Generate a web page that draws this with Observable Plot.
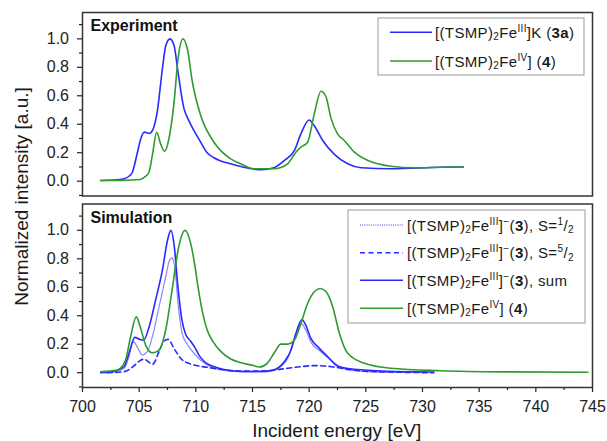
<!DOCTYPE html>
<html><head><meta charset="utf-8">
<script src="https://cdn.jsdelivr.net/npm/d3@7"></script>
<script src="https://cdn.jsdelivr.net/npm/@observablehq/plot@0.6"></script>
<style>body{margin:0;background:#fff}#chart{width:607px;height:441px}</style>
</head><body><div id="chart"></div>
<script>
// ---------- data ----------
const panels = ["Experiment", "Simulation"];

// Experiment: [(TSMP)2FeIII]K (3a)
const expE_3a = [701.6,703.0,703.65,704.1,704.4,704.84,705.15,705.45,705.9,706.2,706.6,707.05,707.35,707.72,708.08,708.43,708.96,709.3,709.8,710.43,711.0,711.6,712.2,713.08,713.97,715.74,716.9,717.8,718.7,719.27,720.0,720.45,721.2,722.2,723.4,724.58,727.2,731.65,733.6];
const expI_3a = [0.005,0.01,0.017,0.035,0.063,0.20,0.30,0.345,0.335,0.36,0.49,0.79,0.953,1.0,0.953,0.765,0.508,0.44,0.36,0.274,0.2,0.165,0.142,0.122,0.103,0.08,0.094,0.145,0.216,0.333,0.43,0.39,0.286,0.19,0.122,0.094,0.087,0.098,0.10];
// Experiment: [(TSMP)2FeIV] (4)
const expE_4 = [701.6,703.5,705.1,705.5,705.87,706.2,706.54,706.9,707.25,707.63,708.08,708.43,708.87,709.25,709.7,710.43,711.6,713.08,713.97,715.15,716.9,718.1,718.83,719.27,719.86,720.45,721.04,721.5,721.9,722.5,723.1,724.0,725.2,727.2,729.3,731.65,733.6];
const expI_4 = [0.005,0.006,0.012,0.03,0.063,0.2,0.344,0.26,0.21,0.30,0.555,0.86,1.0,0.93,0.695,0.461,0.274,0.157,0.122,0.087,0.087,0.122,0.204,0.239,0.274,0.473,0.632,0.59,0.45,0.333,0.286,0.204,0.145,0.105,0.094,0.098,0.10];

// Simulation: [(TSMP)2FeIII]- (3), S=1/2
const simE_s12 = [702.2,703.65,704.1,704.47,704.98,705.27,705.7,706.16,706.75,707.34,707.63,707.87,708.14,708.43,708.8,709.25,709.8,710.4,711.0,712.0,714.0,716.0,717.0,717.6,718.1,718.7,719.27,719.7,720.15,721.04,721.9,722.8,724.0,726.0,730.0];
const simI_s12 = [0.0,0.03,0.113,0.217,0.159,0.124,0.147,0.252,0.462,0.673,0.778,0.806,0.743,0.486,0.276,0.2,0.14,0.09,0.055,0.025,0.007,0.005,0.02,0.05,0.1,0.241,0.346,0.3,0.217,0.147,0.089,0.038,0.015,0.005,0.002];
// Simulation: S=5/2
const simE_s52 = [702.2,703.65,704.5,705.0,705.4,706.2,706.75,707.2,707.55,708.08,708.67,709.55,711.0,712.5,714.0,716.0,717.5,719.0,720.5,722.0,723.5,725.5,728.0,731.0];
const simI_s52 = [0.0,0.007,0.045,0.08,0.095,0.06,0.147,0.224,0.234,0.17,0.1,0.061,0.038,0.02,0.012,0.012,0.025,0.04,0.05,0.042,0.022,0.008,0.003,0.0];
// Simulation: sum
const simE_sum = [701.6,702.5,703.65,704.1,704.62,705.07,705.4,705.87,706.45,707.05,707.5,707.8,708.08,708.4,708.75,709.1,709.5,709.9,710.3,710.8,711.5,712.5,714.0,716.0,716.9,717.8,718.4,718.83,719.36,719.7,720.15,720.9,721.64,722.5,724.0,727.0,731.0];
const simI_sum = [0.0,0.005,0.042,0.136,0.248,0.234,0.229,0.32,0.51,0.72,0.93,1.0,0.9,0.62,0.38,0.27,0.225,0.18,0.12,0.075,0.045,0.022,0.008,0.01,0.02,0.077,0.159,0.276,0.374,0.334,0.241,0.171,0.112,0.047,0.024,0.01,0.005];
// Simulation: [(TSMP)2FeIV] (4)
const simE_4 = [701.6,703.07,703.8,704.24,704.75,705.1,705.57,706.16,706.75,707.34,707.94,708.43,709.05,709.55,709.9,710.2,710.6,711.0,711.5,712.2,713.0,714.0,715.0,715.6,716.3,716.9,717.5,718.1,718.7,719.27,719.86,720.45,720.98,721.5,722.08,722.67,723.4,724.87,727.2,731.65,737.0,744.6];
const simI_4 = [0.007,0.019,0.089,0.252,0.392,0.32,0.194,0.14,0.159,0.30,0.60,0.86,1.0,0.907,0.76,0.6,0.42,0.3,0.22,0.15,0.1,0.07,0.052,0.04,0.066,0.136,0.201,0.201,0.229,0.346,0.486,0.568,0.591,0.568,0.462,0.276,0.136,0.066,0.031,0.014,0.006,0.003];

const yMajorTicks = [0, 0.2, 0.4, 0.6, 0.8, 1.0];
const yMinorTicks = [-0.1, 0.1, 0.3, 0.5, 0.7, 0.9, 1.1];
const xMajorTicks = [700, 705, 710, 715, 720, 725, 730, 735, 740, 745];
const xMinorTicks = [702.5, 707.5, 712.5, 717.5, 722.5, 727.5, 732.5, 737.5, 742.5];

// legend labels: [text, style] segments
const legendTop = [
  [["[(TSMP)"],["2","sub"],["Fe"],["III","sup"],["]K ("],["3a","b"],[")"]],
  [["[(TSMP)"],["2","sub"],["Fe"],["IV","sup"],["] ("],["4","b"],[")"]]
];
const legendBottom = [
  [["[(TSMP)"],["2","sub"],["Fe"],["III","sup"],["]"],["\u2212","sup"],["("],["3","b"],["), S="],["1","sup"],["/"],["2","sub"]],
  [["[(TSMP)"],["2","sub"],["Fe"],["III","sup"],["]"],["\u2212","sup"],["("],["3","b"],["), S="],["5","sup"],["/"],["2","sub"]],
  [["[(TSMP)"],["2","sub"],["Fe"],["III","sup"],["]"],["\u2212","sup"],["("],["3","b"],["), sum"]],
  [["[(TSMP)"],["2","sub"],["Fe"],["IV","sup"],["] ("],["4","b"],[")"]]
];

// ---------- drawing ----------
const BLUE = "#2a2aff", GREEN = "#2f9a2f", LBLUE = "#8080ff";
const rows = (E, I, panel) => E.map((e, i) => ({E: e, I: I[i], panel}));
const lineOpts = (extra) => Object.assign({x: "E", y: "I", fy: "panel", curve: "monotone-x", strokeWidth: 1.6}, extra);

const plot = Plot.plot({
  width: 607, height: 441,
  marginLeft: 82, marginRight: 15, marginTop: 12, marginBottom: 54,
  style: {fontFamily: "'Liberation Sans', Arial, sans-serif", fontSize: "16px", color: "#222", background: "#fff"},
  x: {domain: [700, 745]},
  y: {domain: [-0.104, 1.185]},
  fy: {domain: panels, paddingInner: 0.0417, paddingOuter: 0, round: false, axis: null, label: null},
  marks: [
    Plot.axisY({ticks: yMajorTicks, tickFormat: d3.format(".1f"), tickSize: 5, tickPadding: 8.5, label: null, strokeWidth: 1.2}),
    Plot.axisY({ticks: yMinorTicks, tickSize: 3, text: null, label: null, strokeWidth: 1.2}),
    Plot.axisX({ticks: xMajorTicks, tickSize: 5, tickPadding: 7.8, label: null, strokeWidth: 1.2}),
    Plot.axisX({ticks: xMinorTicks, tickSize: 3, text: null, label: null, strokeWidth: 1.2}),
    Plot.line(rows(expE_3a, expI_3a, "Experiment"), lineOpts({stroke: BLUE})),
    Plot.line(rows(expE_4, expI_4, "Experiment"), lineOpts({stroke: GREEN})),
    Plot.line(rows(simE_s12, simI_s12, "Simulation"), lineOpts({stroke: LBLUE, strokeWidth: 1.3, strokeDasharray: "1,1.2"})),
    Plot.line(rows(simE_s52, simI_s52, "Simulation"), lineOpts({stroke: BLUE, strokeDasharray: "5,3.5"})),
    Plot.line(rows(simE_sum, simI_sum, "Simulation"), lineOpts({stroke: BLUE})),
    Plot.line(rows(simE_4, simI_4, "Simulation"), lineOpts({stroke: GREEN})),
    Plot.frame({stroke: "#333", strokeWidth: 1.5}),
    Plot.text(panels, {fy: d => d, text: d => d, frameAnchor: "top-left", dx: 8, dy: 7.5, fontWeight: "bold", fontSize: 16, fill: "#111"})
  ]
});
document.getElementById("chart").appendChild(plot);

const svg = d3.select(plot);
const FONT = "'Liberation Sans', Arial, sans-serif";

svg.append("text").attr("transform", "translate(28,196.5) rotate(-90)")
  .attr("text-anchor", "middle").attr("font-size", 19).attr("font-family", FONT).attr("fill", "#1a1a1a")
  .text("Normalized intensity [a.u.]");
svg.append("text").attr("x", 336.7).attr("y", 437)
  .attr("text-anchor", "middle").attr("font-size", 19).attr("font-family", FONT).attr("fill", "#1a1a1a")
  .text("Incident energy [eV]");

function richText(g, x, y, segs) {
  const t = g.append("text").attr("x", x).attr("y", y).attr("font-size", 15)
    .attr("text-anchor", "start").attr("letter-spacing", 0.35)
    .attr("font-family", FONT).attr("fill", "#1a1a1a").style("white-space", "pre");
  let off = 0;
  segs.forEach(([s, k]) => {
    const target = k === "sup" ? -6 : k === "sub" ? 2.5 : 0;
    const ts = t.append("tspan").attr("dy", target - off).text(s);
    off = target;
    if (k === "sup" || k === "sub") ts.attr("font-size", 10);
    if (k === "b") ts.attr("font-weight", "bold");
  });
}

function legend(box, x0, x1, tx, items) {
  const g = svg.append("g");
  g.append("rect").attr("x", box[0]).attr("y", box[1]).attr("width", box[2]).attr("height", box[3])
    .attr("fill", "#fff").attr("stroke", "#999").attr("stroke-width", 1);
  items.forEach(it => {
    g.append("line").attr("x1", x0).attr("x2", x1).attr("y1", it.y).attr("y2", it.y)
      .attr("stroke", it.color).attr("stroke-width", it.w || 1.6).attr("stroke-dasharray", it.dash || null);
    richText(g, tx, it.y + 5.5, it.segs);
  });
}

legend([378, 18, 206, 57], 390, 432, 435, [
  {y: 32.3, color: BLUE, segs: legendTop[0]},
  {y: 61, color: GREEN, segs: legendTop[1]}
]);
legend([348, 210, 237, 113], 360, 403, 407, [
  {y: 225, color: LBLUE, w: 1.3, dash: "1,1.2", segs: legendBottom[0]},
  {y: 252.7, color: BLUE, dash: "5,3.5", segs: legendBottom[1]},
  {y: 280.3, color: BLUE, segs: legendBottom[2]},
  {y: 308.3, color: GREEN, segs: legendBottom[3]}
]);
</script></body></html>
